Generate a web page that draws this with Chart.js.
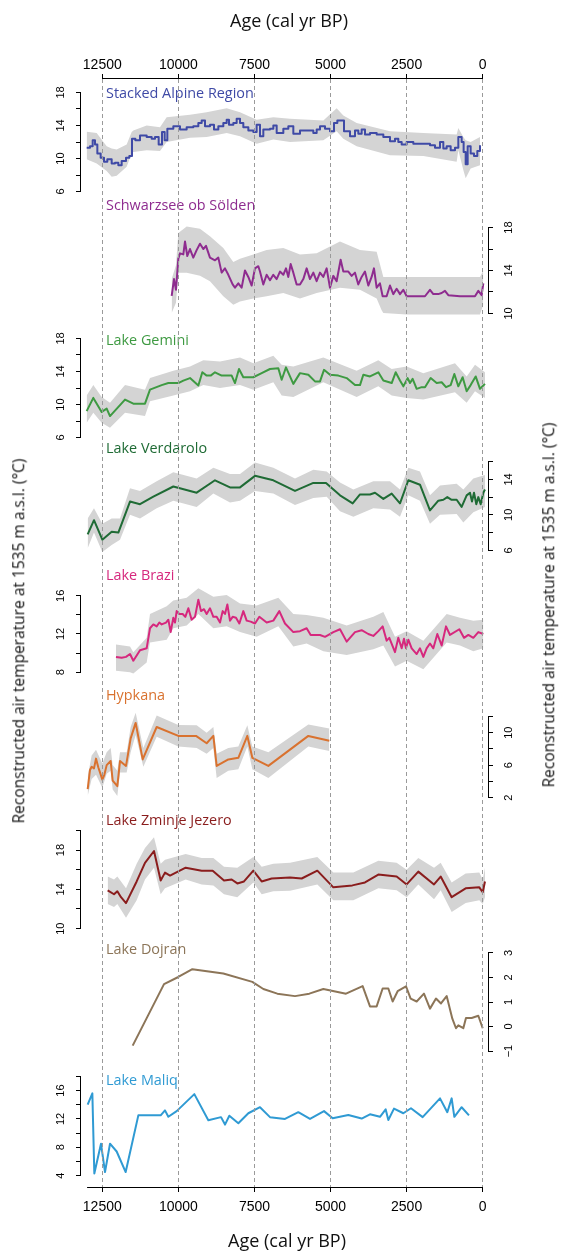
<!DOCTYPE html>
<html><head><meta charset="utf-8">
<script src="https://cdn.jsdelivr.net/npm/chart.js@4/dist/chart.umd.min.js"></script>
<style>
html,body{margin:0;padding:0;background:#fff;}
body{width:565px;height:1254px;position:relative;overflow:hidden;font-family:'Open Sans',sans-serif;}
canvas{position:absolute;left:0;}
.t{position:absolute;white-space:nowrap;line-height:1;}
</style></head><body>
<script>
// ---------- DATA ----------
const ageTicks = [12500, 10000, 7500, 5000, 2500, 0];

const alpTicks = [6,8,10,12,14,16,18], alpLabels = [6,10,14,18];
const alpAge = [13014,12904,12816,12740,12663,12554,12444,12335,12192,12083,11973,11864,11721,11612,11524,11414,11261,11042,10878,10768,10648,10538,10451,10363,10166,9947,9728,9509,9344,9235,9125,8961,8830,8687,8523,8413,8337,8194,8085,7975,7866,7701,7537,7428,7318,7209,6990,6880,6770,6551,6387,6223,6004,5785,5566,5456,5346,5182,5018,4887,4777,4635,4558,4361,4197,4087,3978,3868,3704,3484,3265,3046,2882,2773,2663,2499,2280,1951,1732,1568,1403,1294,1184,1053,911,801,692,627,560,494,396,286,177,89];
const alpTemp = [11.3,11.5,12.2,11.7,10.6,10.1,9.6,9.9,9.4,9.5,9.2,9.7,10.1,10.3,12.4,12.2,12.8,12.6,12.4,12.6,11.7,13.2,12.2,13.6,13.9,13.5,13.8,13.9,14.3,14.6,13.9,14.1,13.5,13.9,14.3,14.7,14.1,14.3,14.8,14.3,13.8,13.4,13.2,14.1,12.7,13.5,13.6,14.0,13.1,13.6,13.9,13.0,13.4,13.4,13.1,13.5,13.9,13.6,13.3,14.3,14.6,14.6,13.3,12.7,13.4,13.0,13.5,12.9,13.1,12.9,12.6,12.1,12.4,12.0,11.7,12.0,11.8,11.8,11.6,11.3,12.0,11.2,11.5,11.0,11.3,12.6,12.0,10.8,9.3,11.5,10.6,10.3,10.9,11.6];
const alpBandAge = [13014,12685,12356,12192,12028,11699,11535,11480,11042,10604,10385,9618,9071,8413,7975,7428,6880,6332,5237,4799,4580,4142,3046,1951,856,801,637,560,396,89];
const alpBandHi = [13.25,13.1,11.5,11.2,11.1,11.7,13.2,13.4,14.0,13.8,15.0,15.3,15.6,16.1,15.6,14.7,15.0,14.8,14.6,16.1,15.2,14.3,13.3,13.1,12.9,13.7,12.6,12.2,12.0,12.6];
const alpBandLo = [9.9,9.4,8.5,7.8,7.9,9.0,10.6,10.8,11.0,10.9,12.0,12.5,12.6,13.1,12.7,11.8,12.3,12.0,12.2,13.3,12.4,11.5,10.4,10.3,9.6,11.0,8.6,7.6,8.8,9.2];

const schTicks = [10,12,14,16,18], schLabels = [10,14,18];
const schAge = [10221,10144,10079,10002,9947,9838,9783,9707,9619,9510,9400,9290,9181,9093,8962,8797,8688,8578,8469,8359,8217,8140,8031,7921,7812,7702,7592,7483,7373,7319,7209,7100,6990,6881,6771,6662,6552,6464,6388,6311,6223,6114,6004,5895,5785,5676,5566,5457,5347,5238,5128,5019,4909,4800,4668,4580,4416,4306,4197,4088,3978,3869,3759,3650,3573,3485,3376,3288,3157,3047,2938,2828,2718,2609,2499,2335,1897,1733,1623,1459,1349,1240,1130,747,254,144,35,-20];
const schTemp = [11.64,13.2,12.2,15.1,15.6,15.5,16.7,15.35,16.0,15.2,15.9,16.5,16.0,16.3,15.2,14.95,15.2,13.8,14.2,13.6,12.7,12.4,12.8,12.4,14.0,13.4,12.6,14.2,14.4,13.9,12.7,13.6,13.1,13.6,13.2,13.9,13.6,14.2,13.4,14.6,13.8,12.7,12.7,13.2,14.2,13.2,13.8,13.0,13.8,13.4,14.2,12.4,13.5,13.0,15.0,13.9,13.9,13.5,13.8,12.7,13.4,13.9,12.6,13.4,14.2,12.4,12.8,11.6,11.6,12.6,11.8,12.3,11.8,12.2,11.6,11.6,11.6,12.2,11.8,11.8,11.9,12.1,11.7,11.6,11.6,12.1,11.7,12.8];
const schBandAge = [10221,10079,10002,9728,9290,8962,8524,8195,7976,7538,7100,6552,6004,5457,4690,4033,3485,3321,3266,2499,90,-20];
const schBandHi = [13.2,14.5,17.5,18.1,17.9,17.2,16.1,14.8,15.1,15.5,15.9,16.1,15.5,15.6,16.7,15.9,15.75,14.0,13.4,13.4,13.4,14.0];
const schBandLo = [10.05,11.0,13.8,13.8,13.5,13.0,11.6,10.8,11.1,11.4,11.6,11.9,11.4,11.9,12.4,12.2,11.4,10.3,10.05,9.9,9.9,10.8];

const gemTicks = [6,8,10,12,14,16,18], gemLabels = [6,10,14,18];
const gemAge = [13014,12795,12521,12356,12247,11754,11480,11097,10933,10549,10330,10002,9837,9618,9344,9213,9071,8939,8797,8578,8249,8140,8008,7866,7537,7263,6990,6716,6606,6464,6223,6004,5730,5511,5346,5215,5018,4744,4470,4196,4032,3923,3704,3430,3265,2991,2860,2718,2608,2466,2389,2302,2170,2006,1896,1710,1513,1349,1206,1053,932,801,659,527,396,231,89,-75];
const gemTemp = [9.2,10.8,9.1,9.5,8.6,10.6,10.1,10.1,11.8,12.35,12.6,12.6,12.9,13.2,12.3,13.9,13.5,13.5,13.9,13.5,13.5,12.6,14.3,13.3,13.3,13.8,14.3,14.4,13.0,14.5,12.5,13.8,13.6,12.8,12.8,14.2,13.6,13.5,13.2,12.35,12.35,13.6,13.4,13.9,12.9,12.6,13.9,12.9,12.2,13.2,12.6,13.1,11.9,12.1,12.1,13.2,12.6,12.7,12.1,12.35,13.7,12.2,13.3,11.6,12.35,13.4,11.9,12.5];
const gemBandAge = [13014,12795,12521,12247,11754,11097,10933,10166,9618,9180,8632,7975,7537,6880,6606,6223,5237,4142,3430,2991,2499,1951,911,527,253,-75];
const gemBandHi = [11.1,12.35,10.9,10.2,12.35,11.8,13.2,14.1,14.6,15.35,15.2,15.7,15.0,15.9,14.8,14.6,15.7,14.1,15.35,14.3,14.6,13.8,15.0,13.4,14.8,13.9];
const gemBandLo = [7.8,9.0,7.8,7.2,9.0,8.6,10.4,11.1,11.6,12.35,12.0,12.35,11.8,12.7,11.1,10.9,12.7,10.9,12.2,11.1,10.8,10.6,11.5,10.2,11.6,10.8];

const verTicks = [6,8,10,12,14,16], verLabels = [6,10,14];
const verAge = [12981,12773,12499,12192,11973,11590,11261,10823,10166,9399,8797,8304,7975,7482,6880,6168,5566,5149,4689,4273,4032,3704,3539,3265,2991,2718,2444,2061,1732,1458,1294,1163,1020,856,692,527,418,352,286,210,144,67,-20,-75];
const verTemp = [7.8,9.4,7.2,8.1,8.0,11.5,11.2,12.05,13.2,12.5,13.9,13.1,13.1,14.4,13.9,12.7,13.6,13.6,12.2,11.3,12.3,12.3,12.5,11.8,12.4,11.3,13.9,13.4,10.5,11.6,11.7,12.0,11.7,11.7,10.9,12.2,12.5,11.5,12.5,11.2,12.0,11.2,12.5,12.85];
const verBandAge = [12981,12773,12499,12192,11918,11590,11261,10713,10166,9399,8851,8304,7975,7482,6880,6168,5566,5127,4689,4251,3594,3046,2718,2444,2061,1732,1403,856,637,308,-75];
const verBandHi = [9.6,10.75,9.0,9.6,9.6,13.0,12.7,13.8,14.8,14.1,15.3,14.6,14.6,15.9,15.3,14.1,15.1,14.9,13.65,12.85,13.8,13.8,12.85,15.3,14.9,12.2,13.3,13.5,12.85,14.1,14.5];
const verBandLo = [6.25,8.0,5.8,6.6,7.2,10.0,9.6,10.75,11.6,10.9,12.4,11.4,11.6,12.7,12.4,11.1,11.9,12.05,10.4,9.8,10.75,10.6,9.8,12.2,11.6,9.0,10.0,10.1,9.15,10.3,10.9];

const braTicks = [8,10,12,14,16], braLabels = [8,12,16];
const braAge = [12050,11864,11721,11590,11480,11261,11042,10933,10823,10713,10626,10549,10407,10330,10254,10166,10111,10056,9969,9859,9772,9673,9564,9454,9344,9257,9158,9071,8961,8851,8742,8632,8545,8468,8391,8304,8216,8107,7997,7866,7756,7625,7482,7340,7099,6880,6683,6497,6223,6004,5785,5653,5346,5182,4908,4689,4470,4196,3978,3759,3594,3430,3288,3156,3069,2882,2773,2663,2587,2521,2444,2334,2170,2061,1951,1842,1732,1622,1491,1349,1206,1075,768,615,472,308,144,-20];
const braTemp = [9.6,9.5,9.6,9.9,9.2,10.3,10.5,12.6,13.0,12.8,13.2,13.0,13.2,13.5,12.2,13.7,13.2,14.4,14.1,14.1,13.8,14.7,13.5,13.8,15.6,14.4,14.6,14.1,14.7,13.8,13.8,13.2,14.4,14.1,15.1,13.4,13.8,13.7,13.1,14.4,13.4,13.3,13.1,13.8,13.2,13.4,14.4,13.1,12.2,12.3,12.6,11.9,11.9,11.7,12.2,12.5,11.2,12.2,12.4,12.0,11.8,12.3,12.8,11.3,11.6,10.1,11.6,10.5,11.5,10.5,11.4,10.5,9.9,10.5,9.6,10.5,11.0,10.5,12.0,10.8,12.8,11.9,12.5,11.6,11.9,11.6,12.2,12.0];
const braBandAge = [12050,11590,11480,11042,10933,10385,10166,9728,9344,8851,8413,7975,7428,6716,6223,5785,5237,4470,3594,3265,2882,2499,1951,1184,746,308,-20];
const braBandHi = [10.9,10.7,10.1,11.6,14.1,14.9,15.5,15.8,16.8,15.9,16.1,15.2,15.0,15.8,14.1,14.0,13.7,12.9,13.8,14.3,11.7,12.3,11.3,14.1,13.7,13.4,13.5];
const braBandLo = [8.15,8.0,7.85,9.0,11.1,11.4,12.6,12.9,14.1,12.6,12.8,12.2,11.7,12.8,10.7,11.0,10.2,9.8,10.4,10.8,8.6,9.2,8.3,11.1,10.8,10.2,10.5];

const hypTicks = [2,4,6,8,10,12], hypLabels = [2,6,10];
const hypAge = [12981,12904,12850,12773,12707,12630,12576,12499,12433,12356,12225,12159,12006,11918,11721,11568,11404,11173,10713,10002,9421,9071,8851,8742,8359,8030,7734,7570,7044,5730,5040];
const hypTemp = [3.05,5.4,5.8,5.6,6.8,5.7,5.1,4.2,4.8,6.0,6.5,4.1,3.4,6.5,5.9,9.3,11.2,6.7,10.7,9.6,9.6,8.7,9.6,5.9,6.7,6.9,9.6,6.9,5.9,9.6,9.0];
const hypBandAge = [12981,12850,12707,12499,12356,12225,12159,12006,11918,11699,11568,11404,11152,10713,10002,9399,9071,8851,8742,8359,8030,7734,7570,7044,5730,5040];
const hypBandHi = [4.6,7.2,7.9,6.2,7.6,8.1,6.0,5.3,7.6,7.6,10.7,12.45,8.1,12.1,10.95,10.9,10.0,10.7,7.4,8.1,8.3,10.9,8.3,7.6,11.0,10.5];
const hypBandLo = [2.2,4.3,4.8,3.2,4.95,5.3,3.0,2.2,5.1,5.1,7.6,9.7,5.8,9.5,8.3,8.1,7.4,8.1,4.4,5.3,5.5,8.3,5.5,4.4,8.3,7.75];

const zmiTicks = [10,12,14,16,18,20], zmiLabels = [10,14,18];
const zmiAge = [12324,12115,12006,11885,11721,11371,11097,10801,10582,10440,10275,9761,9235,8873,8501,8249,8063,7844,7537,7263,6935,6332,5949,5434,4908,4284,3868,3430,2828,2499,2116,1600,1381,1020,560,111,0,-75];
const zmiTemp = [13.9,13.5,13.8,13.2,12.6,14.8,16.7,17.9,14.9,15.7,15.4,16.2,15.9,15.9,14.9,15.0,14.6,14.8,15.9,14.8,15.1,15.2,15.1,15.9,14.2,14.4,14.7,15.5,15.3,14.5,15.8,14.5,15.3,13.2,14.1,14.2,13.7,14.8];
const zmiBandAge = [12324,12115,12006,11721,11371,11097,10801,10582,10440,9761,9235,8851,8501,8063,7537,7263,6880,6332,5434,4908,4251,3430,2828,2499,2116,1600,1381,1020,560,111,0,-75];
const zmiBandHi = [15.3,15.0,15.3,14.1,16.6,18.2,19.3,16.6,17.0,17.6,17.2,17.2,16.3,16.2,17.3,16.3,16.6,16.7,17.3,15.7,15.7,16.9,16.7,16.0,17.2,16.2,16.7,14.7,15.6,15.7,15.0,16.2];
const zmiBandLo = [12.5,12.2,12.5,11.1,12.9,15.0,16.2,13.5,14.1,15.0,14.5,14.4,13.5,13.2,14.7,13.5,13.8,13.85,14.5,12.9,12.9,14.1,13.9,13.2,14.5,13.0,13.9,11.7,12.6,12.9,12.5,13.2];

const dojTicks = [-1,0,1,2,3], dojLabels = [-1,0,1,2,3];
const dojAge = [11502,10472,10002,9541,8523,7570,7208,6749,6168,5697,5237,4492,3945,3704,3485,3288,3101,2959,2795,2521,2368,2170,1930,1732,1535,1371,1184,998,878,801,637,550,363,144,0];
const dojTemp = [-0.78,1.73,2.02,2.34,2.16,1.82,1.53,1.34,1.24,1.34,1.53,1.34,1.65,0.82,0.82,1.55,1.55,1.02,1.44,1.64,1.14,1.02,1.34,0.73,1.14,0.94,1.24,0.32,-0.07,0.05,-0.07,0.35,0.35,0.44,-0.07];

const malTicks = [4,6,8,10,12,14,16,18], malLabels = [4,8,12,16];
const malAge = [12981,12827,12762,12543,12411,12247,12028,11732,11316,10582,10440,10330,10056,9476,9016,8599,8468,8326,8030,7701,7318,6990,6497,6059,5675,5215,4930,4416,3978,3704,3375,3189,3101,2915,2608,2357,1973,1403,1163,1020,932,692,451];
const malTemp = [14.0,15.6,4.3,8.5,4.5,8.5,7.4,4.5,12.5,12.5,13.2,12.3,13.1,15.5,11.8,12.25,11.2,12.45,11.4,12.8,13.65,12.25,12.0,12.95,12.0,13.1,12.1,12.55,12.05,12.65,12.3,13.35,11.85,13.45,12.8,13.5,12.25,14.9,12.95,14.9,12.3,13.65,12.5];

// ---------- LAYOUT / STYLE ----------
const W = 565, H = 1254;
const AX_L = 81, AX_R = 77;           // plot area 81..488 px
const AGE_MAX = 13200, AGE_MIN = -174; // ages at plot edges
const PLOT_TOP = 79, PLOT_BOT = 1187;
const BAND = '#d4d4d4';
const TICK_FONT = "'Liberation Sans', Arial, Helvetica, sans-serif";

const panels = [
  {name:'Stacked Alpine Region', color:'#3f4aa6', side:'left', ticks:alpTicks, labels:alpLabels, px:[198.3,85], labelY:92.5, age:alpAge, val:alpTemp, band:[alpBandAge,alpBandHi,alpBandLo], stepped:true},
  {name:'Schwarzsee ob Sölden', color:'#8e2c8f', side:'right', ticks:schTicks, labels:schLabels, px:[320.7,220], labelY:205, age:schAge, val:schTemp, band:[schBandAge,schBandHi,schBandLo]},
  {name:'Lake Gemini', color:'#3e9a42', side:'left', ticks:gemTicks, labels:gemLabels, px:[445,331.7], labelY:340, age:gemAge, val:gemTemp, band:[gemBandAge,gemBandHi,gemBandLo]},
  {name:'Lake Verdarolo', color:'#1f6b35', side:'right', ticks:verTicks, labels:verLabels, px:[557.7,454], labelY:448.3, age:verAge, val:verTemp, band:[verBandAge,verBandHi,verBandLo]},
  {name:'Lake Brazi', color:'#d6287d', side:'left', ticks:braTicks, labels:braLabels, px:[678.3,589], labelY:575, age:braAge, val:braTemp, band:[braBandAge,braBandHi,braBandLo]},
  {name:'Hypkana', color:'#d9722f', side:'right', ticks:hypTicks, labels:hypLabels, px:[805,709.3], labelY:695, age:hypAge, val:hypTemp, band:[hypBandAge,hypBandHi,hypBandLo]},
  {name:'Lake Zminje Jezero', color:'#8a1d1d', side:'left', ticks:zmiTicks, labels:zmiLabels, px:[936,823.3], labelY:820, age:zmiAge, val:zmiTemp, band:[zmiBandAge,zmiBandHi,zmiBandLo]},
  {name:'Lake Dojran', color:'#8c7558', side:'right', ticks:dojTicks, labels:dojLabels, px:[1059,945.7], labelY:949.3, age:dojAge, val:dojTemp},
  {name:'Lake Maliq', color:'#2f9ad3', side:'left', ticks:malTicks, labels:malLabels, px:[1182.7,1069], labelY:1080, age:malAge, val:malTemp}
];

function pts(xs, ys){ return xs.map((x,i)=>({x:x, y:ys[i]})); }
function fmt(v){ return v < 0 ? '\u2212' + Math.abs(v) : String(v); }

const spinePlugin = {
  id:'spines',
  afterDraw(chart, args, opts){
    const ctx = chart.ctx;
    ctx.save(); ctx.strokeStyle = '#000'; ctx.lineWidth = 1; ctx.setLineDash([]);
    for (const ln of (opts.lines || [])) {
      const s = chart.scales[ln.scale];
      const a = s.getPixelForValue(ln.from), b = s.getPixelForValue(ln.to);
      ctx.beginPath();
      if (s.isHorizontal()) {
        const y = s.options.position === 'top' ? Math.round(s.bottom) - 0.5 : Math.round(s.top) + 0.5;
        ctx.moveTo(a, y); ctx.lineTo(b, y);
      } else {
        const x = s.options.position === 'left' ? Math.round(s.right) - 0.5 : Math.round(s.left) + 0.5;
        ctx.moveTo(x, a); ctx.lineTo(x, b);
      }
      ctx.stroke();
    }
    ctx.restore();
  }
};

function addText(txt, css){
  const d = document.createElement('div');
  d.className = 't'; d.textContent = txt; d.style.cssText += css;
  document.body.appendChild(d); return d;
}

function buildPanel(p){
  const t0 = p.ticks[0], t1 = p.ticks[p.ticks.length-1];
  const ppu = (p.px[0] - p.px[1]) / (t1 - t0);
  const extPx = 30;
  const top = p.px[1] - extPx, bot = p.px[0] + extPx;
  const cTop = Math.floor(top) - 4, cH = Math.ceil(bot) + 4 - cTop;
  const cv = document.createElement('canvas');
  cv.width = W; cv.height = cH;
  cv.style.top = cTop + 'px'; cv.style.width = W + 'px'; cv.style.height = cH + 'px';
  document.body.appendChild(cv);
  const ds = [{data: pts(p.age, p.val), borderColor: p.color, borderWidth: 2, pointRadius: 0,
               fill: false, stepped: p.stepped ? 'before' : false, tension: 0, order: 0, clip: false,
               borderJoinStyle: 'round'}];
  if (p.band) {
    ds.push({data: pts(p.band[0], p.band[2]), borderWidth: 0, borderColor: 'rgba(0,0,0,0)', pointRadius: 0, fill: false, order: 1, clip: false});
    ds.push({data: pts(p.band[0], p.band[1]), borderWidth: 0, borderColor: 'rgba(0,0,0,0)', pointRadius: 0, fill: '-1', backgroundColor: BAND, order: 1, clip: false});
  }
  const left = p.side === 'left';
  new Chart(cv, {
    type: 'line',
    data: {datasets: ds},
    options: {
      responsive: false, animation: false, events: [],
      layout: {padding: {top: top - cTop, bottom: cTop + cH - bot, left: left ? 0 : AX_L, right: left ? AX_R : 0}},
      plugins: {legend: {display: false}, tooltip: {enabled: false},
                spines: {lines: [{scale: 'y', from: t0, to: t1}]}},
      scales: {
        x: {type: 'linear', min: AGE_MIN, max: AGE_MAX, reverse: true, display: false},
        y: {type: 'linear', position: p.side, min: t0 - extPx / ppu, max: t1 + extPx / ppu,
            afterBuildTicks: s => { s.ticks = p.ticks.map(v => ({value: v})); },
            afterFit: s => { s.width = left ? AX_L : AX_R; },
            border: {display: false},
            grid: {display: true, drawOnChartArea: false, drawTicks: true, tickLength: 5, tickColor: '#000', tickWidth: 1, color: '#000'},
            ticks: {autoSkip: false, minRotation: 90, maxRotation: 90, crossAlign: 'center',
                    padding: left ? 8.6 : 9.4, color: '#000', font: {family: TICK_FONT, size: 11},
                    callback: v => p.labels.includes(v) ? fmt(v) : ''}}
      }
    },
    plugins: [spinePlugin]
  });
  addText(p.name, `left:106px;top:${p.labelY}px;transform:translateY(-50%);font-size:14.4px;color:${p.color};`);
}

panels.forEach(buildPanel);

// ---------- shared age axes + dashed guides ----------
const bg = document.createElement('canvas');
bg.width = W; bg.height = H; bg.style.top = '0px'; bg.style.width = W + 'px'; bg.style.height = H + 'px';
bg.style.pointerEvents = 'none';
document.body.appendChild(bg);
const xBase = {type: 'linear', axis: 'x', min: AGE_MIN, max: AGE_MAX, reverse: true,
  afterBuildTicks: s => { s.ticks = ageTicks.map(v => ({value: v})); }};
new Chart(bg, {
  type: 'line',
  data: {datasets: []},
  options: {
    responsive: false, animation: false, events: [],
    layout: {padding: {left: AX_L, right: AX_R, top: 0, bottom: 0}},
    plugins: {legend: {display: false}, tooltip: {enabled: false},
              spines: {lines: [{scale: 'xTop', from: 12500, to: 0}, {scale: 'xBot', from: 13000, to: 0}]}},
    scales: {
      y: {display: false},
      xGrid: Object.assign({}, xBase, {position: 'bottom', weight: 0,
        afterFit: s => { s.height = 0; },
        border: {display: false, dash: [4, 3]},
        grid: {drawOnChartArea: true, drawTicks: false, color: '#9a9a9a', lineWidth: 1},
        ticks: {display: false}}),
      xTop: Object.assign({}, xBase, {position: 'top',
        afterFit: s => { s.height = PLOT_TOP; },
        border: {display: false},
        grid: {drawOnChartArea: false, drawTicks: true, tickLength: 5, tickColor: '#000', tickWidth: 1},
        ticks: {autoSkip: false, maxRotation: 0, padding: 0, color: '#000', font: {family: TICK_FONT, size: 14}, callback: v => String(v)}}),
      xBot: Object.assign({}, xBase, {position: 'bottom', weight: 1,
        afterFit: s => { s.height = H - PLOT_BOT; },
        border: {display: false},
        grid: {drawOnChartArea: false, drawTicks: true, tickLength: 5, tickColor: '#000', tickWidth: 1},
        ticks: {autoSkip: false, maxRotation: 0, padding: 7, color: '#000', font: {family: TICK_FONT, size: 14}, callback: v => String(v)}})
    }
  },
  plugins: [spinePlugin]
});

// ---------- titles ----------
addText('Age (cal yr BP)', 'left:289px;top:20px;transform:translate(-50%,-50%);font-size:18px;color:#111;');
addText('Age (cal yr BP)', 'left:287px;top:1240px;transform:translate(-50%,-50%);font-size:18px;color:#111;');
const yTitle = 'Reconstructed air temperature at 1535 m a.s.l. (°C)';
addText(yTitle, 'left:19px;top:641px;transform:translate(-50%,-50%) rotate(-90deg);font-size:15.5px;color:#111;');
addText(yTitle, 'left:549px;top:605px;transform:translate(-50%,-50%) rotate(-90deg);font-size:15.5px;color:#111;');
</script>
</body></html>
